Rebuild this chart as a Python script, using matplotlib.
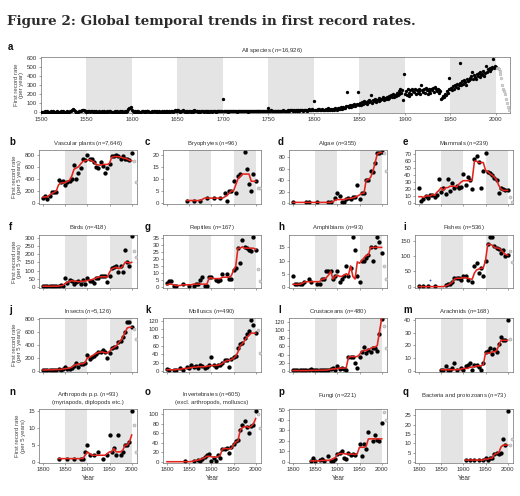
import matplotlib
matplotlib.use('Agg')
import matplotlib.pyplot as plt
import numpy as np

plt.rcParams['font.family'] = ['Liberation Sans', 'DejaVu Sans']
plt.rcParams['mathtext.fontset'] = 'custom'
plt.rcParams['mathtext.it'] = 'Liberation Sans:italic'
plt.rcParams['mathtext.rm'] = 'Liberation Sans'

N = None

# ---------------- panel a: all species, yearly first-record rate ----------------
a_start_year = 1500
all_species = [
    5, 3, 8, 6, 10, 4, 7, 12, 5, 8,
    6, 9, 4, 11, 7, 5, 8, 3, 10, 6,
    7, 4, 9, 6, 12, 5, 8, 6, 4, 10,
    6, 8, 12, 18, 25, 35, 20, 10, 6, 8,
    5, 7, 10, 9, 12, 20, 28, 22, 15, 10,
    8, 6, 12, 9, 7, 14, 10, 6, 9, 8,
    5, 12, 8, 6, 10, 7, 4, 9, 6, 11,
    7, 5, 8, 10, 6, 9, 12, 7, 5, 8,
    6, 10, 7, 5, 9, 8, 6, 11, 7, 10,
    8, 6, 9, 7, 12, 10, 38, 45, 50, 55,
    20, 12, 8, 10, 6, 9, 7, 11, 5, 8,
    6, 9, 12, 7, 10, 8, 15, 18, 9, 6,
    8, 5, 10, 7, 9, 12, 6, 8, 11, 7,
    9, 6, 8, 12, 7, 10, 5, 9, 14, 8,
    7, 10, 6, 9, 12, 8, 15, 22, 10, 9,
    30, 20, 12, 8, 10, 14, 22, 9, 7, 11,
    8, 10, 6, 12, 9, 7, 11, 8, 22, 10,
    12, 9, 14, 8, 10, 7, 12, 9, 11, 8,
    10, 12, 8, 9, 14, 7, 11, 10, 8, 12,
    9, 11, 8, 13, 10, 12, 9, 14, 10, 11,
    145, 12, 10, 14, 9, 11, 8, 13, 10, 12,
    11, 9, 13, 10, 12, 8, 14, 11, 9, 12,
    10, 13, 9, 12, 11, 14, 10, 8, 13, 11,
    12, 9, 14, 10, 11, 13, 9, 12, 10, 15,
    11, 13, 10, 14, 12, 9, 15, 11, 13, 12,
    50, 14, 12, 20, 13, 11, 15, 12, 14, 10,
    13, 15, 11, 14, 18, 12, 20, 15, 13, 16,
    14, 18, 22, 15, 25, 20, 28, 18, 22, 16,
    20, 18, 25, 22, 15, 28, 20, 24, 18, 26,
    22, 28, 18, 30, 25, 35, 20, 28, 32, 24,
    120, 30, 22, 28, 35, 25, 32, 20, 28, 35,
    25, 30, 22, 38, 28, 45, 30, 35, 25, 40,
    25, 35, 30, 45, 40, 30, 50, 35, 45, 40,
    55, 40, 60, 50, 45, 65, 219, 70, 55, 60,
    75, 60, 85, 70, 90, 65, 80, 95, 219, 85,
    90, 105, 85, 110, 95, 120, 100, 115, 90, 125,
    110, 130, 120, 194, 105, 140, 125, 150, 115, 135,
    140, 125, 160, 130, 150, 145, 170, 135, 160, 150,
    165, 150, 180, 160, 175, 190, 170, 200, 165, 185,
    180, 210, 190, 230, 200, 250, 215, 240, 140, 421,
    200, 230, 190, 250, 215, 180, 240, 205, 260, 230,
    220, 250, 195, 240, 210, 260, 230, 200, 302, 245,
    225, 250, 210, 270, 240, 200, 260, 235, 215, 250,
    240, 265, 220, 280, 250, 230, 260, 245, 210, 235,
    147, 155, 180, 170, 200, 190, 230, 215, 250, 374,
    250, 270, 240, 290, 260, 300, 280, 310, 270, 295,
    543, 320, 300, 340, 310, 350, 330, 300, 360, 340,
    350, 380, 360, 400, 439, 370, 410, 390, 360, 420,
    400, 430, 390, 440, 410, 420, 450, 400, 430, 511,
    440, 470, 460, 450, 480, 470, 500, 579, 490, 510,
    500,
]
all_species_recent = [480, 490, 470, 450, 420, 380, 300, 260, 230, 200, 150, 100, 60, 30]

# ---------------- panels b-q: rates per 5 years, 1800..2000 ----------------
YEARS = list(range(1800, 2001, 5))
GREY_YEARS = [2005, 2010]

plants_pts = [82, 108, 65, 120, 174, 185, 174, 375, 348, 364, 300, 348, 364, 402, 636, 391, 500, 581, 728, 707,
              800, 728, 728, 674, 598, 581, 674, 620, 500, 581, 647, 772, 772, 800, 783, 728, 783, 728, 728, 720, 837]
plants_trend = [95, 100, 105, 130, 160, 175, 200, 300, 330, 335, 340, 355, 380, 450, 560, 580, 600, 650, 690, 700,
                710, 720, 700, 680, 640, 630, 630, 640, 640, 640, 660, 760, 770, 770, 770, 760, 750, 740, 730, 710, 700]
plants_grey = [700, 340]

bryo_pts = [N, N, N, N, N, N, N, N, N, 1, N, N, 1, N, N, 1, N, N, 2, N,
            N, 2, N, N, 2, N, 4, 1, 5, 5, 9, 4, 11, 12, N, 21, 14, 8, 5, 12, 9]
bryo_trend = [N, N, N, N, N, N, N, N, N, 1, 1, 1, 1, 1, 1, 1, 1.5, 2, 2, 2,
              2, 2, 2, 2, 2, 2, 2.5, 3, 4, 5, 5, 7.5, 10, 11, 12, 12, 12, 12, 9, 9, 9]
bryo_grey = [6, 6]

algae_pts = [1, N, N, N, N, N, 1, 1, N, N, N, 1, N, N, N, N, 1, 1, N, 8,
             17, 13, 2, 2, 7, 8, 7, 10, 10, 32, 7, 18, 17, 41, 40, 56, 54, 70, 87, 88, 89]
algae_trend = [1, 1, 1, 1, 1, 1, 1, 1, 1, 1, 1, 1, 1, 1, 1, 1, 1, 1, 2, 5,
               6, 6, 6, 6, 7, 8, 8, 9, 10, 12, 14, 17, 17, 40, 41, 45, 55, 70, 86, 88, 89]
algae_grey = [88, 56]

mammal_pts = [22, 3, 6, 10, 7, 11, 11, 8, 12, 35, 16, 22, 13, 35, 17, 29, 22, 25, 21, 23,
              41, 26, 37, 33, 20, 63, 67, 59, 22, 46, 72, 44, 43, 40, 36, 33, 15, 22, 20, 18, 19]
mammal_trend = [9, 9, 8, 10, 10, 10, 12, 11, 15, 18, 22, 18, 22, 22, 24, 24, 24, 23, 27, 30,
                32, 32, 32, 32, 33, 60, 60, 58, 58, 58, 47, 45, 42, 40, 37, 33, 25, 20, 18, 18, 18]
mammal_grey = [8, 2]

bird_pts = [5, 5, 6, 5, 5, 7, 5, 8, 15, 8, 52, 22, 40, 34, 16, 32, 36, 16, 40, 20,
            52, 36, 36, 24, 52, 56, 66, 66, 66, 32, 66, 115, 119, 125, 91, 125, 91, 225, 151, 125, 308]
bird_trend = [5, 5, 5, 5, 5, 5, 5, 6, 8, 10, 22, 28, 35, 38, 35, 35, 32, 35, 35, 35,
              40, 42, 45, 50, 55, 60, 62, 62, 62, 60, 90, 110, 115, 120, 112, 115, 125, 150, 150, 145, 150]
bird_grey = [219, 183]

reptile_pts = [3, 4, 4, 1, 1, N, N, 2, N, N, 1, N, 1, 2, 2, 5, 7, 1, 1, 7,
               7, N, 5, 4, 5, 9, N, 9, 6, 6, 12, 14, 28, 17, 34, 29, 28, 27, 26, 36, 27]
reptile_trend = [1.5, 2, 2, 1.5, 1, 1, 1, 1.5, 1.5, 1.5, 1.5, 1.5, 2, 2, 2, 2, 2, 2, 2, 6.5,
                 6.5, 6, 6, 6, 6, 7, 7, 7, 7, 8, 12, 15, 28, 28, 29, 28, 28, 28, 28, 28, 27]
reptile_grey = [13, 4]

amphib_pts = [4, 1, 1, 1, 1, 2, N, 3, 2, N, N, 1, 1, 3, 3, 6, 6, 6, 3, 4,
              6, 2, 3, 4, 8, 4, 7, 19, 14, 4, 2, 10, 10, 11, 12, 15, 10, 15, 19, 17, 13]
amphib_trend = [1, 1, 1, 1, 1.3, 1.8, 2, 2, 2, 2, 2, 2, 2, 3, 3, 3.5, 4.5, 6, 3, 4,
                4.5, 4, 4, 4.5, 5, 4.5, 8, 4, 3, 9.5, 9, 10, 11, 12, 12, 15, 15, 15, 15, 15, 15]
amphib_grey = [8, 3]

fish_pts = [2, N, 2, N, 2, N, N, 4, N, N, N, N, 5, 8, 10, 17, 30, 30, 30, 21,
            35, 35, 24, N, 17, 67, 78, 46, 62, 35, 85, 138, 160, 163, 131, 126, 123, 110, 120, 99, 104]
fish_trend = [1, 1, 1, 1, 1, 1, 1, 1, 1, 1, 1, 1, 3, 6, 10, 15, 25, 28, 28, 28,
              30, 30, 28, 26, 25, 45, 55, 58, 60, 62, 85, 138, 138, 135, 128, 126, 125, 120, 112, 105, 103]
fish_grey = [115, 81]
fish_blue_year = [1825]
fish_blue = [24]

insect_pts = [15, 18, 20, 15, 20, 22, 18, 25, 22, 25, 67, 33, 33, 50, 80, 115, 67, 105, 110, 120,
              240, 177, 210, 225, 258, 287, 287, 320, 287, 200, 273, 354, 368, 368, 440, 464, 526, 593, 751, 751, 680]
insect_trend = [15, 16, 17, 18, 19, 20, 21, 22, 24, 30, 35, 40, 45, 60, 80, 100, 105, 110, 110, 130,
                200, 210, 230, 250, 270, 285, 290, 290, 280, 275, 300, 340, 360, 380, 430, 460, 520, 590, 660, 670, 670]
insect_grey = [641, 488]

mollusc_pts = [5, 3, N, 1.5, 3, N, 7, 3, N, 9, 7, 13, 9, 11, 7, 13, 11, 7, 10, 13,
               33, 13, 9, 15, 15, 20, 27, 27, 9, 29, 33, 35, 55, 64, 67, 78, 87, 95, 122, 110, 90]
mollusc_trend = [3, 3, 2.5, 2.5, 3, 4, 4, 5, 6, 6, 7, 8, 9, 9, 10, 10, 10, 10, 11, 12,
                 13, 13, 13, 14, 15, 18, 22, 25, 25, 27, 30, 35, 45, 60, 65, 72, 80, 85, 90, 90, 90]
mollusc_grey = [98, 42]

crust_pts = [2, 2, 2, 2, 2, 2, 2, 2, 6, 2, 2, 2, 2, 2, 2, 2, 2, 4, 7, 3,
             12, 5, 8, 6, 2, 33, 35, 35, 20, 8, 33, 47, 59, 43, 51, 47, 55, 55, 49, 91, 126]
crust_trend = [1, 1, 1, 1, 1, 1, 1, 1, 1.5, 1.5, 1.5, 1.5, 2, 2, 2, 2, 3, 4, 5, 5,
               6, 7, 7, 7, 8, 33, 35, 35, 35, 35, 40, 48, 50, 50, 52, 55, 58, 58, 62, 95, 128]
crust_grey = [110, 55]

arach_pts = [N, N, N, N, N, N, N, N, N, N, 1, 1, 4, 1, 1, 2, 6, 1, N, 2,
             1, 4, 5, 6, 1, 5, 5, 3, 1, 6, 15, 16, 18, 13, 17, 15, 21, 27, 24, 24, 40]
arach_trend = [N, N, N, N, N, N, N, N, N, N, 1, 1, 1, 1, 1, 1, 1, 1, 1, 1.5,
               2, 2, 2, 3, 3, 3.5, 4, 4, 4, 5, 14, 14, 14, 15, 15, 16, 20, 24, 24, 24, 24]
arach_grey = [25, N]

arthro_pts = [N, N, N, N, N, N, N, 1, N, N, N, 1, N, N, 1, N, N, 1, 1, 3,
              5, 2, N, 2, N, 3, N, 1, N, 2, 8, 3, 4, 2, 8, 2, 3, 5, 5, 6, 15]
arthro_trend = [N, N, N, N, N, N, N, 1, 1, 1, 1, 1, 1, 1, 1, 1, 1, 1, 1, 2,
                3, 2.5, 2, 2, 2, 2, 2, 2, 2, 2.5, 3, 3, 4, 3, 3, 3, 3.5, 5, 5, 6, 8]
arthro_grey = [11, 3]

invert_pts = [N, N, N, N, N, N, N, N, 1, N, N, N, 2, N, 5, 3, 7, 10, 14, 16,
              2, 9, 3, 14, 9, 27, 28, 29, 18, 31, 37, 43, 46, 68, 78, 85, 73, 61, 75, 78, 107]
invert_trend = [0.5, 0.5, 0.5, 0.5, 0.5, 0.5, 0.5, 0.5, 0.5, 0.5, 0.5, 1, 2, 3, 4, 5, 7, 9, 12, 12,
                11, 10, 10, 11, 14, 27, 28, 28, 27, 28, 36, 42, 44, 66, 72, 74, 74, 72, 75, 80, 91]
invert_grey = [100, 71]

fungi_pts = [N, N, N, N, N, N, N, N, 1, 4, 1, N, 2, 3, 1, N, 6, 1, 1, 3,
             8, 9, 10, 4, 3, 9, 7, 8, 7, N, 17, 6, 17, 12, 29, N, 20, 26, 21, 20, 37]
fungi_trend = [N, N, N, N, N, N, N, N, 1, 1, 1, 1, 1, 1.5, 1.5, 1.5, 1.5, 2, 3, 4,
               7, 8, 8, 8, 7.5, 7.5, 7.5, 7.5, 7, 8, 14, 14, 14, 15, 22, 22, 22, 22, 22, 22, 22]
fungi_grey = [48, 40]

bact_pts = [N, N, N, N, N, N, N, N, N, N, N, N, N, N, N, N, N, N, N, N,
            N, 1, N, 1, N, 1, N, 1, N, 1, 2, 1, 2, 2, 4, 5, 4, 5, 12, 9, 27]
bact_trend = [N, N, N, N, N, N, N, N, N, N, N, N, N, N, N, N, N, N, N, N,
              N, 1, 1, 1, 1, 1, 1, 1, 1, 1, 1.5, 1.5, 2, 2, 4, 4.5, 5, 8, 9, 9, 9]
bact_grey = [9, 12]

# tick labels
A_XTICKS = [1500, 1550, 1600, 1650, 1700, 1750, 1800, 1850, 1900, 1950, 2000]
A_YTICKS = [0, 100, 200, 300, 400, 500, 600]
SMALL_XTICKS = [1800, 1850, 1900, 1950, 2000]
plants_yticks = [0, 200, 400, 600, 800]
bryo_yticks = [0, 5, 10, 15, 20]
algae_yticks = [0, 20, 40, 60, 80]
mammal_yticks = [0, 10, 20, 30, 40, 50, 60, 70]
bird_yticks = [0, 50, 100, 150, 200, 250, 300]
reptile_yticks = [0, 5, 10, 15, 20, 25, 30, 35]
amphib_yticks = [0, 5, 10, 15]
fish_yticks = [0, 50, 100, 150]
insect_yticks = [0, 200, 400, 600, 800]
mollusc_yticks = [0, 20, 40, 60, 80, 100, 120]
crust_yticks = [0, 20, 40, 60, 80, 100, 120]
arach_yticks = [0, 10, 20, 30, 40]
arthro_yticks = [0, 5, 10, 15]
invert_yticks = [0, 20, 40, 60, 80, 100]
fungi_yticks = [0, 10, 20, 30, 40, 50]
bact_yticks = [0, 5, 10, 15, 20, 25]

# ---------------- drawing ----------------
W, H = 520, 496
fig = plt.figure(figsize=(W / 100, H / 100), dpi=100)

RED = '#e3231c'
BAND = '#e4e4e4'
SPINE = '#6e6e6e'
TXT = '#333333'


def add_ax(l, t, r, b):
    return fig.add_axes([l / W, 1 - b / H, (r - l) / W, (b - t) / H])


def ftext(x, y, s, **kw):
    fig.text(x / W, 1 - y / H, s, **kw)


def style(ax):
    for sp in ax.spines.values():
        sp.set_color(SPINE)
        sp.set_linewidth(0.5)
    ax.tick_params(axis='both', labelsize=4.4, length=1.6, width=0.45, pad=1.2,
                   color=SPINE, labelcolor=TXT)


ftext(7, 21, 'Figure 2: Global temporal trends in first record rates.',
      family='DejaVu Serif', weight='bold', fontsize=9.7, color='#2b2b2b', va='center', ha='left')

# panel a
ax = add_ax(41, 57, 510, 113)
for s in (1550, 1650, 1750, 1850, 1950):
    ax.axvspan(s, s + 50, color=BAND, lw=0, zorder=0)
a_years = np.arange(a_start_year, a_start_year + len(all_species))
r_years = np.arange(a_years[-1] + 1, a_years[-1] + 1 + len(all_species_recent))
ax.plot(a_years, all_species, 'o', ms=2.4, color='black', mew=0, zorder=3)
ax.plot(r_years, all_species_recent, 'o', ms=2.0, mfc='#d2d2d2', mec='#a5a5a5', mew=0.3, zorder=3)
ax.set_xlim(1500, 2015.5)
ax.set_ylim(-8, 606)
ax.set_xticks(A_XTICKS)
ax.set_yticks(A_YTICKS)
style(ax)
ax.set_ylabel('First record rate\n(per year)', fontsize=4.3, color='#444444', labelpad=2, linespacing=1.1)
ftext(272, 50.5, 'All species ($\\it{n}$=16,926)', fontsize=4.4, color=TXT, ha='center', va='center')
ftext(8, 47, 'a', fontsize=7, weight='bold', color='#111111', ha='left', va='center')

COL_L = [39, 163, 289, 415]
COL_W = 98
ROWS = [(150, 204), (235, 288), (318, 372), (409, 463)]
LETTER_X = [9, 145, 278, 403]

panels = [
    ('b', 'Vascular plants ($\\it{n}$=7,646)', plants_pts, plants_trend, plants_grey, plants_yticks, (-18, 880)),
    ('c', 'Bryophytes ($\\it{n}$=96)', bryo_pts, bryo_trend, bryo_grey, bryo_yticks, (-0.45, 22)),
    ('d', 'Algae ($\\it{n}$=355)', algae_pts, algae_trend, algae_grey, algae_yticks, (-1.8, 93)),
    ('e', 'Mammals ($\\it{n}$=239)', mammal_pts, mammal_trend, mammal_grey, mammal_yticks, (-1.5, 76)),
    ('f', 'Birds ($\\it{n}$=418)', bird_pts, bird_trend, bird_grey, bird_yticks, (-6, 316)),
    ('g', 'Reptiles ($\\it{n}$=167)', reptile_pts, reptile_trend, reptile_grey, reptile_yticks, (-0.8, 37.5)),
    ('h', 'Amphibians ($\\it{n}$=93)', amphib_pts, amphib_trend, amphib_grey, amphib_yticks, (-0.4, 19.7)),
    ('i', 'Fishes ($\\it{n}$=536)', fish_pts, fish_trend, fish_grey, fish_yticks, (-3.5, 168)),
    ('j', 'Insects ($\\it{n}$=5,126)', insect_pts, insect_trend, insect_grey, insect_yticks, (-16, 812)),
    ('k', 'Molluscs ($\\it{n}$=490)', mollusc_pts, mollusc_trend, mollusc_grey, mollusc_yticks, (-2.5, 126)),
    ('l', 'Crustaceans ($\\it{n}$=480)', crust_pts, crust_trend, crust_grey, crust_yticks, (-2.5, 129)),
    ('m', 'Arachnids ($\\it{n}$=168)', arach_pts, arach_trend, arach_grey, arach_yticks, (-0.8, 41.5)),
    ('n', 'Arthropods p.p. ($\\it{n}$=93)\n(myriapods, diplopods etc.)', arthro_pts, arthro_trend, arthro_grey, arthro_yticks, (-0.3, 15.7)),
    ('o', 'Invertebrates ($\\it{n}$=605)\n(excl. arthropods, molluscs)', invert_pts, invert_trend, invert_grey, invert_yticks, (-2.2, 111)),
    ('p', 'Fungi ($\\it{n}$=221)', fungi_pts, fungi_trend, fungi_grey, fungi_yticks, (-1, 50.5)),
    ('q', 'Bacteria and protozoans ($\\it{n}$=73)', bact_pts, bact_trend, bact_grey, bact_yticks, (-0.6, 28.3)),
]

for k, (letter, title, pts, trend, grey, yt, yl) in enumerate(panels):
    row, col = divmod(k, 4)
    top, bot = ROWS[row]
    left = COL_L[col]
    ax = add_ax(left, top, left + COL_W, bot)
    ax.axvspan(1850, 1900, color=BAND, lw=0, zorder=0)
    ax.axvspan(1950, 2000, color=BAND, lw=0, zorder=0)
    ax.plot(YEARS, np.array(pts, dtype=float), 'o', ms=3.1, color='black', mew=0, zorder=2)
    ax.plot(YEARS, np.array(trend, dtype=float), '-', color=RED, lw=1.15, zorder=3)
    ax.plot(GREY_YEARS, np.array(grey, dtype=float), 'o', ms=2.2, mfc='#d2d2d2', mec='#a0a0a0', mew=0.35, zorder=3)
    if letter == 'i':
        ax.plot(fish_blue_year, fish_blue, 'o', ms=1.3, color='#3050e0', mew=0, zorder=3)
    ax.set_xlim(1791, 2012)
    ax.set_ylim(*yl)
    ax.set_xticks(SMALL_XTICKS)
    ax.set_yticks(yt)
    style(ax)
    if row < 3:
        ax.set_xticklabels([])
    else:
        ax.set_xlabel('Year', fontsize=4.7, color=TXT, labelpad=2.5)
    if col == 0:
        ax.set_ylabel('First record rate\n(per 5 years)', fontsize=4.3, color='#444444', labelpad=2, linespacing=1.1)
    cx = left + COL_W / 2
    if row < 3:
        ty = top - 7
        ly = ty - 1
    else:
        ty = 397.5 if '\n' in title else 395.5
        ly = 392
    ftext(cx, ty, title, fontsize=4.3, color=TXT, ha='center', va='center', linespacing=1.25)
    ftext(LETTER_X[col], ly, letter, fontsize=7, weight='bold', color='#111111', ha='left', va='center')

fig.savefig('out.png', dpi=100)
